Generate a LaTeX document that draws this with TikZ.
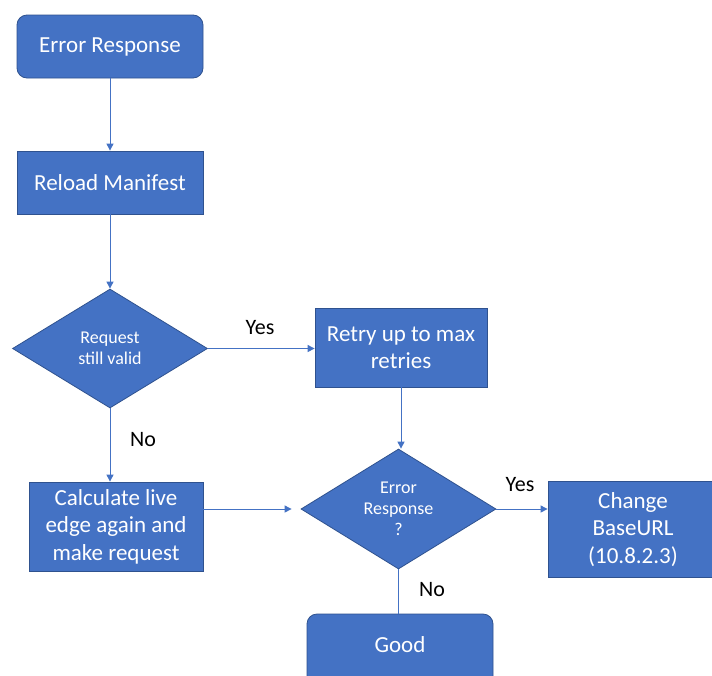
\documentclass[tikz,border=0pt]{standalone}
\usepackage{fontspec}
\setmainfont{Carlito}
\usepackage{tikz}
\usetikzlibrary{arrows.meta,%
                shapes.geometric}
\definecolor{boxblue}{HTML}{4472C4}
\definecolor{boxline}{HTML}{2F528F}
\begin{document}
\begin{tikzpicture}[x=1pt,y=-1pt]
  \tikzstyle{BoxStyle}=[draw=boxline,fill=boxblue,text=white,line width=0.8pt,
    align=center,inner sep=0pt,font=\fontsize{23}{27.5}\selectfont]
  \tikzstyle{RoundStyle}=[BoxStyle,rounded corners=10pt]
  \tikzstyle{DecisionStyle}=[diamond,draw=boxline,fill=boxblue,text=white,
    line width=0.8pt,align=center,inner sep=0pt,aspect=1.64,
    font=\fontsize{18}{21}\selectfont]
  \tikzstyle{EdgeStyle}=[draw=boxblue,line width=1pt,-{Triangle[width=7pt,length=7pt]}]
  \tikzstyle{LabelStyle}=[text=black,font=\fontsize{22}{26}\selectfont]
  \clip (0,0) rectangle (712,675);
  \fill[white] (0,0) rectangle (712,675);
  \node[RoundStyle,minimum width=186pt,minimum height=63pt] (err) at (110,46.5) {Error Response};
  \node[BoxStyle,minimum width=186pt,minimum height=63pt] (reload) at (110,182.5) {Reload Manifest};
  \node[DecisionStyle,minimum width=195pt,minimum height=119pt] (valid) at (110,348.5) {Request\\still valid};
  \node[BoxStyle,minimum width=172pt,minimum height=79pt] (retry) at (401,347.5) {Retry up to max\\retries};
  \node[DecisionStyle,minimum width=195pt,minimum height=120pt] (errq) at (398.5,509) {Error\\Response\\?};
  \node[BoxStyle,minimum width=174pt,minimum height=89pt] (calc) at (116,526.5) {Calculate live\\edge again and\\make request};
  \node[BoxStyle,minimum width=170pt,minimum height=96pt] (change) at (633,529.5) {Change\\BaseURL\\(10.8.2.3)};
  \node[RoundStyle,minimum width=186pt,minimum height=84pt,text depth=22pt] (good) at (400,656) {Good};
  % labels
  \node[LabelStyle] (yes1) at (260,328) {Yes};
  \node[LabelStyle] (no1) at (143,440) {No};
  \node[LabelStyle] (yes2) at (520,485) {Yes};
  \node[LabelStyle] (no2) at (432,590) {No};
  % connectors
  \draw[EdgeStyle] (err) -- (reload);
  \draw[EdgeStyle] (reload) -- (valid.north);
  \draw[EdgeStyle] (valid.east) -- (retry.west |- valid.east);
  \draw[EdgeStyle] (valid.south) -- (valid.south |- calc.north);
  \draw[EdgeStyle] (retry.south) -- (retry.south |- errq.north);
  \draw[EdgeStyle,shorten >=9pt] (calc.east |- errq.west) -- (errq.west);
  \draw[EdgeStyle] (errq.east) -- (change.west |- errq.east);
  \draw[EdgeStyle,-] (errq.south) -- (errq.south |- good.north);
\end{tikzpicture}
\end{document}
